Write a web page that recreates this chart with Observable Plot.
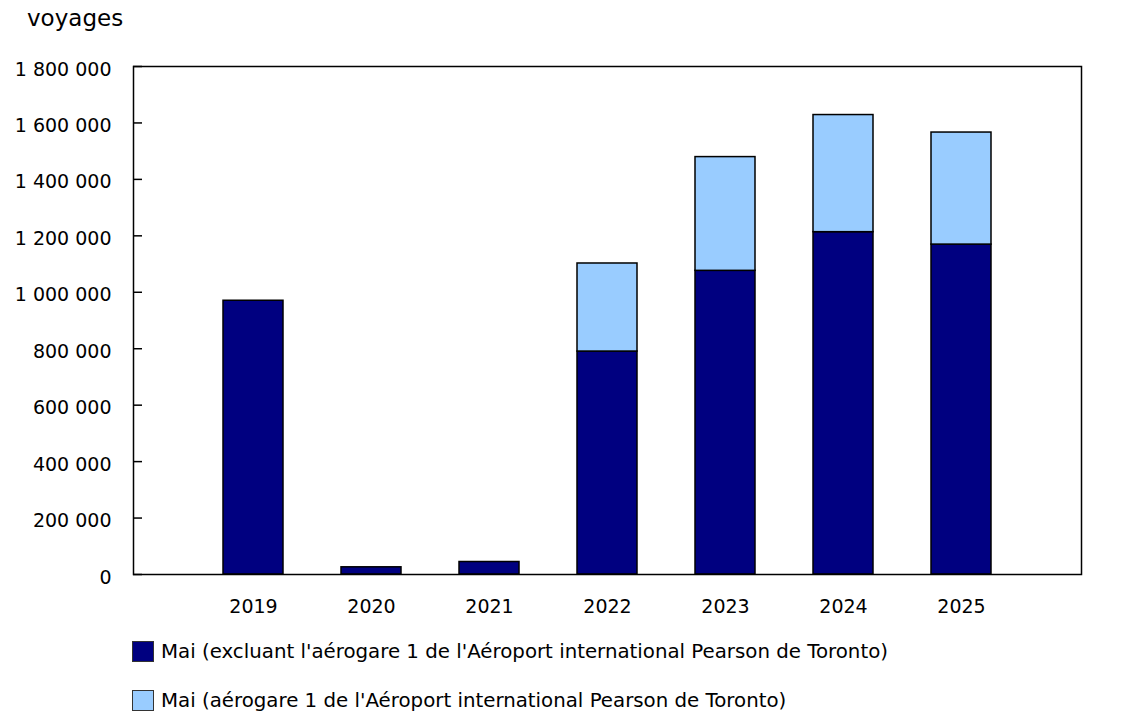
<!DOCTYPE html>
<html>
<head>
<meta charset="utf-8">
<script src="https://cdn.jsdelivr.net/npm/d3@7"></script>
<script src="https://cdn.jsdelivr.net/npm/@observablehq/plot@0.6"></script>
<style>
  body { margin: 0; background: #fff; font-family: "DejaVu Sans", Verdana, sans-serif; }
  #wrap { position: relative; width: 1130px; height: 723px; }
  #title { position: absolute; left: 27px; top: 7px; font-size: 23px; line-height: 23px; color: #000; }
  .leg { position: absolute; left: 132px; font-size: 19.8px; line-height: 22px; color: #000; white-space: nowrap; }
  .sw { position: absolute; left: 0; top: 0; width: 20px; height: 19px; border: 1px solid #333; }
  .lt { position: absolute; left: 29px; top: 0; }
</style>
</head>
<body>
<div id="wrap">
  <div id="chart"></div>
  <div id="title">voyages</div>
  <div id="legend"></div>
</div>
<script>
const years = ["2019", "2020", "2021", "2022", "2023", "2024", "2025"];
const seriesNames = [
  "Mai (excluant l'aérogare 1 de l'Aéroport international Pearson de Toronto)",
  "Mai (aérogare 1 de l'Aéroport international Pearson de Toronto)"
];
const excludingT1 = [970000, 25500, 44300, 790000, 1076000, 1213000, 1169000];
const terminal1 = [0, 0, 0, 312000, 403000, 415000, 397000];
const seriesColors = ["#000080", "#99CCFF"];
const yTicks = [0, 200000, 400000, 600000, 800000, 1000000, 1200000, 1400000, 1600000, 1800000];

const rows = [];
years.forEach((yr, i) => {
  rows.push({year: yr, series: seriesNames[0], value: excludingT1[i]});
  if (terminal1[i] > 0) rows.push({year: yr, series: seriesNames[1], value: terminal1[i]});
});

const fmt = v => d3.format(",")(v).replace(/,/g, " ");

const chart = Plot.plot({
  width: 1130,
  height: 630,
  marginLeft: 133,
  marginRight: 49,
  marginTop: 66,
  marginBottom: 56,
  style: {fontFamily: "DejaVu Sans, Verdana, sans-serif", fontSize: "19px", color: "#000", background: "#fff"},
  x: {domain: years, paddingInner: 0.49, paddingOuter: 0.745},
  y: {domain: [0, 1800000]},
  color: {domain: seriesNames, range: seriesColors},
  marks: [
    Plot.barY(rows, {x: "year", y: "value", fill: "series", stroke: "black", strokeWidth: 1.5, order: seriesNames}),
    Plot.frame({stroke: "black", strokeWidth: 1.5}),
    Plot.axisY({ticks: yTicks, tickFormat: () => "", tickSize: -9, stroke: "black", strokeWidth: 1.5, label: null}),
    Plot.axisY({ticks: yTicks, tickFormat: fmt, tickSize: 0, tickPadding: 22, fill: "black", label: null, dy: 3}),
    Plot.axisX({tickSize: 0, tickPadding: 25, fill: "black", label: null})
  ]
});
document.getElementById("chart").appendChild(chart);

const legend = document.getElementById("legend");
const tops = [641, 690];
seriesNames.forEach((name, i) => {
  const row = document.createElement("div");
  row.className = "leg";
  row.style.top = tops[i] + "px";
  const sw = document.createElement("div");
  sw.className = "sw";
  sw.style.background = seriesColors[i];
  const t = document.createElement("div");
  t.className = "lt";
  t.textContent = name;
  row.appendChild(sw);
  row.appendChild(t);
  legend.appendChild(row);
});
</script>
</body>
</html>
